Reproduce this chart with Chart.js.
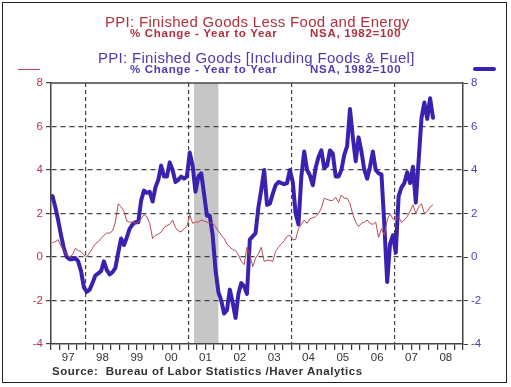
<!DOCTYPE html>
<html>
<head>
<meta charset="utf-8">
<script src="https://cdn.jsdelivr.net/npm/chart.js@4.4.0/dist/chart.umd.min.js"></script>
<style>
  body { margin: 0; background: #fff; font-family: "Liberation Sans", Arial, sans-serif; }
  #wrap { position: relative; width: 511px; height: 387px; }
  #frame { position: absolute; left: 2px; top: 2px; width: 503px; height: 379px; border: 1.5px solid #222; }
  .t { position: absolute; white-space: nowrap; }
  .red { color: #b0303e; }
  .blue { color: #4a3cb0; }
  .big { font-size: 15px; letter-spacing: 0.3px; }
  .sub { font-size: 11.5px; font-weight: bold; letter-spacing: 0.7px; }
</style>
</head>
<body>
<div id="wrap">
  <canvas id="ppiChart" width="511" height="387"></canvas>
  <div id="frame"></div>
  <div class="t red big" style="left:105px; top:13px;">PPI: Finished Goods Less Food and Energy</div>
  <div class="t red sub" style="left:130px; top:27px;">% Change - Year to Year</div>
  <div class="t red sub" style="left:310px; top:27px;">NSA, 1982=100</div>
  <div class="t blue big" style="left:98px; top:49px;">PPI: Finished Goods [Including Foods &amp; Fuel]</div>
  <div class="t blue sub" style="left:130px; top:63px;">% Change - Year to Year</div>
  <div class="t blue sub" style="left:310px; top:63px;">NSA, 1982=100</div>
  <div style="position:absolute; left:18px; top:69px; width:22px; height:1px; background:#b84a55;"></div>
  <div style="position:absolute; left:473px; top:67px; width:23px; height:4px; border-radius:2px; background:#3a22b0;"></div>
  <div class="t sub" style="left:52px; top:365px; color:#333; font-size:11.5px; letter-spacing:0.5px;">Source:&nbsp; Bureau of Labor Statistics /Haver Analytics</div>
</div>
<script>
// monthly, Jan 1997 .. Feb 2008, % change year to year
const finishedGoods = [
  2.8, 2.3, 1.7, 1.0, 0.4, 0.0, -0.1, -0.1, -0.05, -0.2, -0.65, -1.4,
  -1.6, -1.5, -1.2, -0.85, -0.75, -0.65, -0.2, -0.6, -0.8, -0.7, -0.5, 0.2,
  0.85, 0.55, 0.9, 1.3, 1.5, 1.6, 1.6, 2.6, 3.05, 2.95, 3.0, 2.55,
  3.2, 3.55, 4.2, 3.7, 3.7, 4.35, 4.0, 3.45, 3.55, 3.7, 3.6, 3.7,
  4.8, 4.2, 3.0, 3.7, 3.85, 2.9, 1.9, 1.9, 1.0, -0.6, -1.6, -2.0,
  -2.6, -2.45, -1.5, -2.1, -2.8, -1.7, -1.2, -1.35, -1.7, 0.8, 0.95, 1.1,
  2.3, 3.1, 4.0, 2.4, 2.45, 2.9, 3.3, 3.45, 3.4, 3.35, 3.4, 4.0,
  3.45, 2.0, 1.5, 3.7, 4.85, 4.0, 3.75, 3.3, 4.1, 4.6, 4.9, 4.1,
  4.2, 4.9, 4.75, 3.7, 3.7, 4.0, 4.7, 5.1, 6.8, 5.5, 4.4, 5.5,
  4.85, 4.0, 3.6, 4.15, 4.85, 4.0, 3.85, 3.8, 1.5, -1.15, 0.6, 1.0,
  0.2, 2.8, 3.2, 3.4, 3.9, 3.4, 4.15, 2.5, 4.45, 6.4, 7.1, 6.35,
  7.3, 6.4
];
const coreGoods = [
  0.65, 0.7, 0.8, 0.5, 0.3, 0.1, 0.0, 0.1, 0.4, 0.3, 0.25, 0.1,
  0.0, 0.2, 0.4, 0.6, 0.7, 0.85, 1.0, 1.1, 1.1, 1.2, 1.6, 2.45,
  2.3, 2.1, 1.65, 1.6, 1.6, 1.55, 1.6, 1.75, 1.95, 1.85, 1.55, 0.85,
  1.0, 1.05, 1.15, 1.35, 1.45, 1.5, 1.7, 1.35, 1.2, 1.15, 1.3, 1.4,
  1.95, 1.55, 1.6, 1.6, 1.7, 1.65, 1.6, 1.6, 1.55, 1.4, 1.2, 1.0,
  0.85, 0.6, 0.45, 0.35, 0.3, 0.1, -0.2, -0.35, 0.45, 0.1, -0.45, -0.05,
  0.15, 0.45, -0.2, -0.15, -0.15, -0.2, 0.25, 0.45, 0.6, 0.75, 0.95, 1.0,
  0.8, 0.8, 1.3, 1.5, 1.7, 1.55, 1.75, 1.8, 1.85, 2.0, 2.25, 2.7,
  2.65, 2.6, 2.6, 2.75, 2.5, 2.85, 2.7, 2.7, 2.45, 1.95, 1.6, 1.4,
  1.55, 1.6, 1.7, 1.55, 1.5, 1.6, 0.9, 1.3, 1.0, 1.7, 2.0, 1.75,
  1.7, 1.85, 1.6, 1.7, 1.85, 2.1, 2.4, 2.0, 2.3, 2.45, 2.0, 2.1,
  2.3, 2.4
];
const yearLabels = ['97', '98', '99', '00', '01', '02', '03', '04', '05', '06', '07', '08'];
const yTicks = [-4, -2, 0, 2, 4, 6, 8];
// months counted from Jan 1997
const recession = [50, 58.5];
const dashedMonths = [12, 48, 84, 120];

function toPoints(arr) {
    return arr.map(function (v, i) { return { x: i + 0.5, y: v }; });
}

const shadePlugin = {
    id: 'shade',
    beforeDraw: function (chart) {
        const ctx = chart.ctx;
        const a = chart.chartArea;
        const x = chart.scales.x;
        const x1 = x.getPixelForValue(recession[0]);
        const x2 = x.getPixelForValue(recession[1]);
        ctx.save();
        ctx.fillStyle = '#c6c6c6';
        ctx.fillRect(x1, a.top, x2 - x1, a.bottom - a.top);
        ctx.restore();
    },
    afterDraw: function (chart) {
        const ctx = chart.ctx;
        const a = chart.chartArea;
        ctx.save();
        ctx.strokeStyle = '#444';
        ctx.lineWidth = 1.5;
        ctx.beginPath();
        ctx.moveTo(a.left, a.top);
        ctx.lineTo(a.right, a.top);
        ctx.stroke();
        ctx.restore();
    }
};

const font = { family: '"Liberation Sans", Arial, sans-serif', size: 11.5 };

new Chart(document.getElementById('ppiChart').getContext('2d'), {
    type: 'line',
    data: {
        datasets: [{
            label: 'PPI: Finished Goods Less Food and Energy',
            data: toPoints(coreGoods),
            yAxisID: 'y',
            borderColor: '#b84a55',
            borderWidth: 1,
            pointRadius: 0,
            tension: 0
        }, {
            label: 'PPI: Finished Goods [Including Foods & Fuel]',
            data: toPoints(finishedGoods),
            yAxisID: 'y2',
            borderColor: '#3a22b0',
            borderWidth: 4,
            borderJoinStyle: 'round',
            borderCapStyle: 'round',
            pointRadius: 0,
            tension: 0
        }]
    },
    options: {
        responsive: false,
        animation: false,
        layout: { padding: { top: 83, left: 0, right: 0, bottom: 0 } },
        plugins: { legend: { display: false }, tooltip: { enabled: false } },
        scales: {
            x: {
                type: 'linear',
                min: 0,
                max: 144,
                afterBuildTicks: function (axis) {
                    const t = [];
                    for (let m = 0; m <= 144; m += 3) t.push({ value: m });
                    axis.ticks = t;
                },
                afterFit: function (axis) { axis.height = 43; },
                ticks: {
                    autoSkip: false,
                    maxRotation: 0,
                    color: '#333',
                    font: font,
                    padding: 1,
                    callback: function (v) {
                        return v % 12 === 6 ? yearLabels[(v - 6) / 12] : '';
                    }
                },
                grid: {
                    color: function (c) {
                        return c.tick && dashedMonths.includes(c.tick.value) ? '#444' : 'rgba(0,0,0,0)';
                    },
                    lineWidth: 1.2,
                    tickColor: '#333',
                    tickLength: 6
                },
                border: { color: '#444', width: 1.5, dash: [4, 3] }
            },
            y: {
                position: 'left',
                min: -4,
                max: 8,
                afterBuildTicks: function (axis) {
                    axis.ticks = yTicks.map(function (v) { return { value: v }; });
                },
                afterFit: function (axis) { axis.width = 51; },
                ticks: { color: '#c0304a', font: font, padding: 3 },
                grid: {
                    color: function (c) {
                        return c.tick && (c.tick.value === -4 || c.tick.value === 8) ? 'rgba(0,0,0,0)' : '#444';
                    },
                    lineWidth: 1.2,
                    tickColor: '#444',
                    tickLength: 5
                },
                border: { color: '#444', width: 1.5, dash: [5, 4] }
            },
            y2: {
                position: 'right',
                min: -4,
                max: 8,
                afterBuildTicks: function (axis) {
                    axis.ticks = yTicks.map(function (v) { return { value: v }; });
                },
                afterFit: function (axis) { axis.width = 48; },
                ticks: { color: '#5040b8', font: font, padding: 3 },
                grid: { drawOnChartArea: false, tickColor: '#444', tickLength: 5 },
                border: { color: '#444', width: 1.5 }
            }
        }
    },
    plugins: [shadePlugin]
});
</script>
</body>
</html>
